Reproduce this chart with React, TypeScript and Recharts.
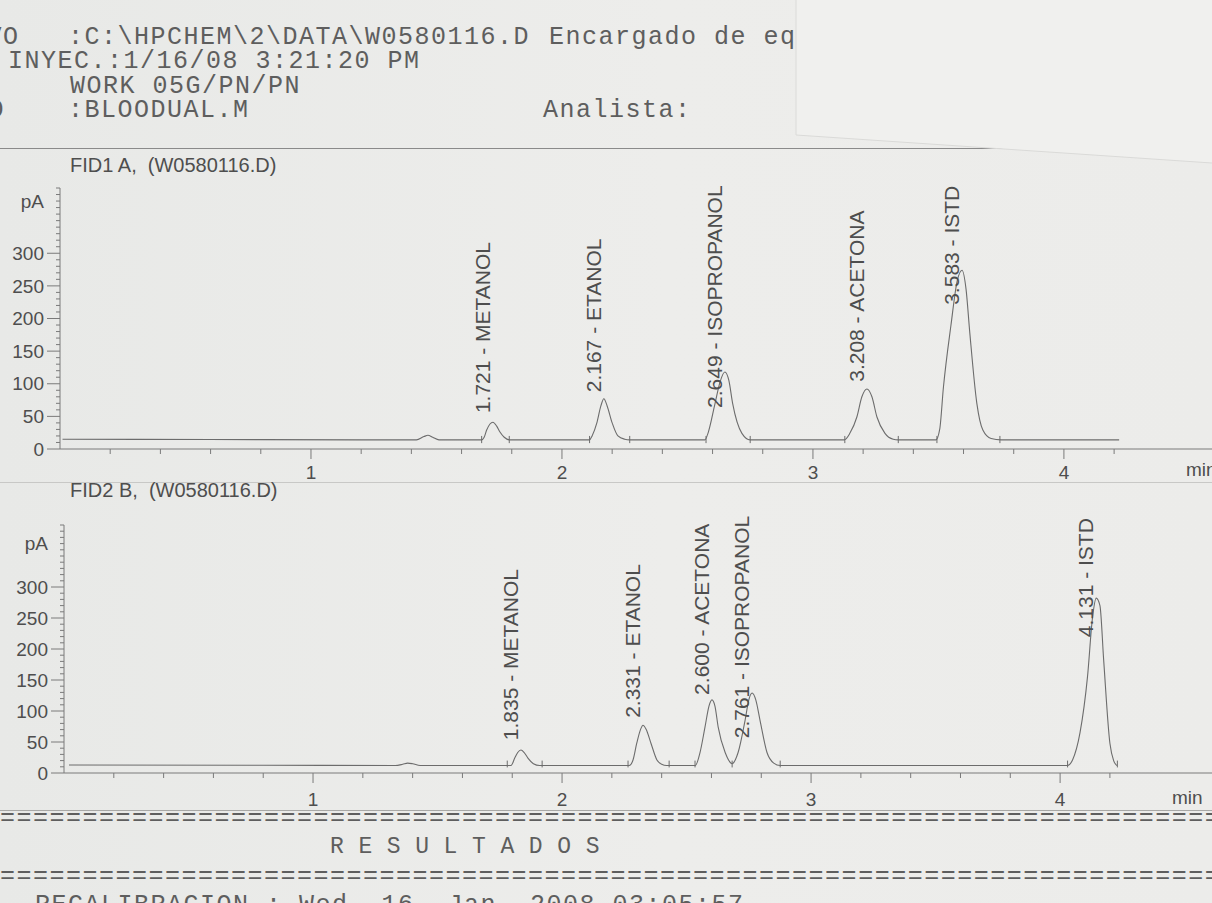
import { ComposedChart, Line, XAxis, YAxis, ReferenceDot, ReferenceLine } from 'recharts';

// FID1 A signal, [time in min, signal in pA]
const fid1Trace: [number, number][] = [
  [0.01, 15], [0.6, 14.5], [1.2, 14], [1.42, 14], [1.45, 19], [1.466, 21], [1.485, 18], [1.51, 14],
  [1.68, 14], [1.69, 18], [1.7, 29], [1.725, 41], [1.74, 35], [1.753, 26], [1.77, 18], [1.79, 14],
  [2.11, 14], [2.12, 20], [2.139, 40], [2.155, 66], [2.167, 77], [2.18, 66], [2.2, 40], [2.223, 20], [2.25, 15], [2.27, 14],
  [2.57, 14], [2.58, 22], [2.61, 70], [2.63, 103], [2.649, 118], [2.665, 105], [2.68, 70], [2.717, 24], [2.75, 14],
  [3.125, 14], [3.147, 24], [3.175, 49], [3.195, 80], [3.215, 92], [3.235, 80], [3.255, 49], [3.287, 24], [3.32, 15], [3.34, 14],
  [3.49, 14], [3.505, 30], [3.52, 95], [3.55, 190], [3.575, 258], [3.594, 274], [3.61, 245], [3.625, 178], [3.653, 70],
  [3.677, 29], [3.71, 16], [3.75, 14], [4.22, 14],
];

// FID2 B signal
const fid2Trace: [number, number][] = [
  [0.02, 13], [0.8, 12.5], [1.33, 12], [1.36, 14], [1.38, 16], [1.4, 15], [1.43, 12],
  [1.795, 12], [1.81, 24], [1.822, 33], [1.835, 37], [1.848, 33], [1.863, 24], [1.885, 15], [1.91, 12],
  [2.27, 12], [2.285, 21], [2.3, 48], [2.315, 70], [2.325, 77], [2.338, 70], [2.357, 48], [2.381, 21], [2.4, 14], [2.42, 12],
  [2.535, 12], [2.554, 33], [2.574, 74], [2.59, 108], [2.602, 118], [2.614, 108], [2.627, 74], [2.655, 33], [2.683, 15],
  [2.707, 33], [2.735, 85], [2.75, 118], [2.763, 129], [2.778, 118], [2.795, 85], [2.823, 33], [2.85, 16], [2.876, 12],
  [4.03, 12], [4.05, 21], [4.08, 65], [4.11, 155], [4.13, 250], [4.145, 282], [4.16, 270], [4.175, 182], [4.2, 48],
  [4.215, 20], [4.228, 12],
];

// peak annotations: name, apex time, signal where the label starts
const fid1PeakNames = ['1.721 - METANOL', '2.167 - ETANOL', '2.649 - ISOPROPANOL', '3.208 - ACETONA', '3.583 - ISTD'];
const fid1PeakTimes = [1.725, 2.167, 2.649, 3.215, 3.594];
const fid1LabelAt = [55, 87, 63, 103, 221];

const fid2PeakNames = ['1.835 - METANOL', '2.331 - ETANOL', '2.600 - ACETONA', '2.761 - ISOPROPANOL', '4.131 - ISTD'];
const fid2PeakTimes = [1.835, 2.325, 2.602, 2.763, 4.145];
const fid2LabelAt = [53, 89, 126, 56, 219];

// integration start / end marks on the baseline
const fid1Marks = [1.68, 1.79, 2.11, 2.27, 2.574, 2.75, 3.127, 3.34, 3.494, 3.745];
const fid2Marks = [1.78, 1.92, 2.265, 2.43, 2.534, 2.683, 2.876, 4.03, 4.23];

const minuteTicks = [0.2, 0.4, 0.6, 0.8, 1, 1.2, 1.4, 1.6, 1.8, 2, 2.2, 2.4, 2.6, 2.8, 3, 3.2, 3.4, 3.6, 3.8, 4, 4.2];
const pATicks = [
  0, 10, 20, 30, 40, 50, 60, 70, 80, 90, 100, 110, 120, 130, 140, 150, 160, 170, 180, 190, 200,
  210, 220, 230, 240, 250, 260, 270, 280, 290, 300, 310, 320, 330, 340, 350, 360, 370, 380, 390, 400,
];

const SANS = '"Liberation Sans", Arial, sans-serif';
const MONO = '"Liberation Mono", "Courier New", monospace';
const INK = '#4e4e4e';
const PRINT = '#5e5e5e';
const AXIS = '#7a7a7a';
const TRACE = '#6c6c6c';

function TimeTick({ x, y, payload, labelDy }: any) {
  const v = payload.value;
  const major = Math.abs(v - Math.round(v)) < 1e-6;
  return (
    <g>
      <line x1={x} x2={x} y1={y} y2={y + (major ? 10 : 5)} stroke={AXIS} />
      {major && (
        <text x={x} y={y + labelDy} dy="0.35em" textAnchor="middle" fontSize={19} fontFamily={SANS} fill={INK}>
          {v}
        </text>
      )}
    </g>
  );
}

function PaTick({ x, y, payload, unitAt }: any) {
  const v = payload.value;
  const major = v % 50 === 0 && v <= 300;
  return (
    <g>
      <line x1={x - (major ? 13 : 4)} x2={x} y1={y} y2={y} stroke={AXIS} />
      {major && (
        <text x={x - 16} y={y} dy="0.35em" textAnchor="end" fontSize={19} fontFamily={SANS} fill={INK}>
          {v}
        </text>
      )}
      {v === unitAt && (
        <text x={x - 16} y={y} dy="0.35em" textAnchor="end" fontSize={19} fontFamily={SANS} fill={INK}>
          pA
        </text>
      )}
    </g>
  );
}

function PeakLabel({ cx, cy, text }: any) {
  const x = cx - 3;
  return (
    <text x={x} y={cy} transform={`rotate(-90 ${x} ${cy})`} fontSize={21} fontFamily={SANS} fill={INK} style={{ whiteSpace: 'pre' }}>
      {text}
    </text>
  );
}

function Chromatogram({ trace, names, times, labelAt, marks, top, height, marginTop, axisHeight, yAxisWidth, xMax, unitAt, labelDy }: any) {
  const rows = trace.map(([t, v]: [number, number]) => ({ t, v }));
  return (
    <div style={{ position: 'absolute', left: 0, top, width: 1212, height }}>
      <ComposedChart width={1212} height={height} data={rows} margin={{ top: marginTop, right: 0, bottom: 0, left: 0 }}>
        <XAxis
          dataKey="t"
          type="number"
          domain={[0, xMax]}
          ticks={minuteTicks}
          interval={0}
          allowDataOverflow
          height={axisHeight}
          tickLine={false}
          tickSize={0}
          tickMargin={0}
          axisLine={{ stroke: AXIS }}
          tick={(p: any) => <TimeTick {...p} labelDy={labelDy} />}
        />
        <YAxis
          type="number"
          domain={[0, 400]}
          ticks={pATicks}
          interval={0}
          width={yAxisWidth}
          tickLine={false}
          tickSize={0}
          tickMargin={0}
          axisLine={{ stroke: AXIS }}
          tick={(p: any) => <PaTick {...p} unitAt={unitAt} />}
        />
        {marks.map((t: number) => (
          <ReferenceLine key={t} segment={[{ x: t, y: 9 }, { x: t, y: 20 }]} stroke={TRACE} ifOverflow="visible" />
        ))}
        <Line dataKey="v" type="monotone" dot={false} stroke={TRACE} strokeWidth={1.1} isAnimationActive={false} />
        {names.map((name: string, i: number) => (
          <ReferenceDot
            key={name}
            x={times[i]}
            y={labelAt[i]}
            r={0}
            ifOverflow="visible"
            shape={(s: any) => <PeakLabel {...s} text={name} />}
          />
        ))}
      </ComposedChart>
    </div>
  );
}

// typewriter style report line; the printout is wide-pitched, hence the letter spacing
function Mono({ left, cy, size = 25, spacing = 1.5, box = 22, children }: any) {
  return (
    <div
      style={{
        position: 'absolute', left, top: cy - box / 2, height: box, lineHeight: `${box}px`,
        fontFamily: MONO, fontSize: size, letterSpacing: spacing, color: PRINT, whiteSpace: 'pre',
      }}
    >
      {children}
    </div>
  );
}

function Sans({ left, cy, size = 20, children }: any) {
  return (
    <div
      style={{
        position: 'absolute', left, top: cy - 11, height: 22, lineHeight: '22px',
        fontFamily: SANS, fontSize: size, color: INK, whiteSpace: 'pre',
      }}
    >
      {children}
    </div>
  );
}

function Rule({ top, color = '#9a9a9a' }: any) {
  return <div style={{ position: 'absolute', left: 0, top, width: 1212, height: 1, background: color }} />;
}

export default function App() {
  return (
    <div
      style={{
        position: 'absolute', left: 0, top: 0, width: 1212, height: 903, overflow: 'hidden',
        background: 'linear-gradient(90deg, #e8e9e7 0%, #ededeb 55%, #ececea 100%)',
      }}
    >
      {/* report header */}
      <Mono left={-96} cy={38}>ARCHIVO</Mono>
      <Mono left={68} cy={38}>:C:\HPCHEM\2\DATA\W0580116.D</Mono>
      <Mono left={549} cy={38}>Encargado de equipo</Mono>
      <Mono left={-91} cy={62}>FECHA INYEC.:1/16/08 3:21:20 PM</Mono>
      <Mono left={70} cy={87}>WORK 05G/PN/PN</Mono>
      <Mono left={-94} cy={111}>METODO</Mono>
      <Mono left={68} cy={111}>:BLOODUAL.M</Mono>
      <Mono left={543} cy={111}>Analista:</Mono>
      <Rule top={148} color="#8a8a8a" />
      {/* second sheet lying over the top right corner */}
      <svg style={{ position: 'absolute', left: 0, top: 0 }} width={1212} height={180}>
        <polygon points="796,0 1212,0 1212,163 796,135" fill="#f0f0ee" />
        <polyline points="796,0 796,135 1212,163" fill="none" stroke="#dadad8" strokeWidth={1} />
      </svg>

      <Sans left={70} cy={165}>FID1 A,  (W0580116.D)</Sans>
      <Chromatogram
        trace={fid1Trace}
        names={fid1PeakNames}
        times={fid1PeakTimes}
        labelAt={fid1LabelAt}
        marks={fid1Marks}
        top={180}
        height={310}
        marginTop={8}
        axisHeight={41}
        yAxisWidth={60}
        xMax={4.59}
        unitAt={380}
        labelDy={23}
      />
      <Sans left={1186} cy={470} size={19}>min</Sans>
      <Rule top={482} color="#c8c8c6" />

      <Sans left={70} cy={490}>FID2 B,  (W0580116.D)</Sans>
      <Chromatogram
        trace={fid2Trace}
        names={fid2PeakNames}
        times={fid2PeakTimes}
        labelAt={fid2LabelAt}
        marks={fid2Marks}
        top={515}
        height={300}
        marginTop={10}
        axisHeight={42}
        yAxisWidth={64}
        xMax={4.61}
        unitAt={370}
        labelDy={26}
      />
      <Sans left={1172} cy={798} size={19}>min</Sans>
      <Rule top={810} color="#a8a8a6" />

      {/* results block */}
      <Mono left={0} cy={819} box={14}>{'='.repeat(74)}</Mono>
      <Mono left={330} cy={847} size={23} spacing={0.4}>R E S U L T A D O S</Mono>
      <Mono left={0} cy={877} box={14}>{'='.repeat(74)}</Mono>
      <Mono left={35} cy={906}>RECALIBRACION : Wed  16  Jan  2008 03:05:57</Mono>
    </div>
  );
}
